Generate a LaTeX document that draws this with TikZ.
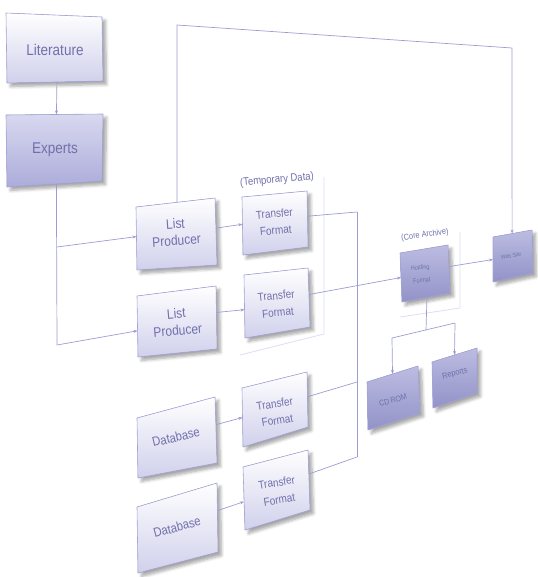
\documentclass[tikz,border=0pt]{standalone}
\usepackage{fontspec}
\setmainfont{Liberation Sans}
\usetikzlibrary{calc,arrows.meta,shadows.blur}

\definecolor{wirecol}{HTML}{9C9CD2}
\definecolor{edgecol}{HTML}{A4A4D6}
\definecolor{txtcol}{HTML}{7070AC}
\definecolor{lightlo}{HTML}{D0D0EC}
\definecolor{midhi}{HTML}{D8D8F0}
\definecolor{midlo}{HTML}{ACACDA}
\definecolor{darkhi}{HTML}{BCBCE2}
\definecolor{darklo}{HTML}{9292C8}
\definecolor{shcol}{HTML}{7474B8}
\definecolor{bracketcol}{HTML}{DEDEF0}

\tikzset{
  wire/.style={draw=wirecol, line width=0.7pt},
  arr/.style={wire, -{Stealth[length=4pt,width=3pt]}},
  boxedge/.style={draw=edgecol, line width=0.6pt, line join=round},
  boxshadow/.style={blur shadow={shadow xshift=3.5pt, shadow yshift=-3.5pt,
      shadow blur radius=3pt, shadow blur steps=6, shadow opacity=35, fill=shcol}},
  lightbox/.style={top color=white, bottom color=lightlo},
  midbox/.style={top color=midhi, bottom color=midlo},
  darkbox/.style={top color=darkhi, bottom color=darklo},
  lbl/.style={text=txtcol, align=center, inner sep=0pt},
  bracket/.style={draw=bracketcol, line width=0.8pt},
}

% a box seen in perspective: name, four corners (nw, ne, se, sw), fill style
\newcommand\skbox[6]{%
  \coordinate (#1-nw) at (#2);
  \coordinate (#1-ne) at (#3);
  \coordinate (#1-se) at (#4);
  \coordinate (#1-sw) at (#5);
  \path[boxshadow] (#1-nw)--(#1-ne)--(#1-se)--(#1-sw)--cycle;
  \shade[#6] (#1-nw)--(#1-ne)--(#1-se)--(#1-sw)--cycle;
  \draw[boxedge] (#1-nw)--(#1-ne)--(#1-se)--(#1-sw)--cycle;
}
\newcommand\tall[1]{\scalebox{1}[1.15]{#1}}

\begin{document}
\begin{tikzpicture}[x=1pt,y=-1pt]
\useasboundingbox (0,0) rectangle (537,577);

% boxes
\skbox{lit}{6,13}{102,17}{103,81}{7,83}{lightbox}
\skbox{exp}{6,115}{103,114}{102,181}{7,187}{midbox}
\skbox{lp1}{136,207}{215,198}{217,265}{137,270}{lightbox}
\skbox{lp2}{137,296}{216,286}{217,349}{138,357}{lightbox}
\skbox{tf1}{242,197}{307,191}{308,247}{243,255}{lightbox}
\skbox{tf2}{244,275}{308,268}{310,327}{245,338}{lightbox}
\skbox{db1}{137,418}{215,397}{217,463}{138,478}{lightbox}
\skbox{tf3}{242,388}{307,372}{308,427}{243,447}{lightbox}
\skbox{db2}{137,507}{217,483}{218,552}{138,573}{lightbox}
\skbox{tf4}{243,467}{308,450}{310,510}{245,530}{lightbox}
\skbox{hf}{400,253}{448,245}{450,293}{402,302}{darkbox}
\skbox{web}{493,237}{532,230}{533,273}{493,282}{darkbox}
\skbox{cd}{367,382}{418,366}{420,413}{368,430}{darkbox}
\skbox{rep}{432,362}{477,348}{477,393}{433,408}{darkbox}

% box texts
\node[lbl, font=\fontsize{13.5}{16}\selectfont] (litt) at (55,50) {\tall{Literature}};
\node[lbl, font=\fontsize{13.5}{16}\selectfont] (expt) at (55,150) {\tall{Experts}};
\node[lbl, rotate=4, font=\fontsize{12}{17}\selectfont] (lp1t) at (176,232) {\tall{List}\\\tall{Producer}};
\node[lbl, rotate=5, font=\fontsize{12}{17}\selectfont] (lp2t) at (177,322) {\tall{List}\\\tall{Producer}};
\node[lbl, rotate=5, font=\fontsize{10}{17}\selectfont] (tf1t) at (275,222) {\tall{Transfer}\\\tall{Format}};
\node[lbl, rotate=6, font=\fontsize{10}{17}\selectfont] (tf2t) at (277,304) {\tall{Transfer}\\\tall{Format}};
\node[lbl, rotate=9, font=\fontsize{10}{17}\selectfont] (tf3t) at (276,412) {\tall{Transfer}\\\tall{Format}};
\node[lbl, rotate=9, font=\fontsize{10}{17.5}\selectfont] (tf4t) at (278,491) {\tall{Transfer}\\\tall{Format}};
\node[lbl, rotate=13, font=\fontsize{11.3}{14}\selectfont] (db1t) at (176,437) {\tall{Database}};
\node[lbl, rotate=15, font=\fontsize{11.3}{14}\selectfont] (db2t) at (177,527) {\tall{Database}};
\node[lbl, rotate=7, font=\fontsize{5.5}{13}\selectfont] (hft) at (421,274) {\tall{Holding}\\\tall{Format}};
\node[lbl, rotate=10, font=\fontsize{5}{6}\selectfont] (webt) at (511,256) {\tall{Web Site}};
\node[lbl, rotate=16, font=\fontsize{7.2}{9}\selectfont] (cdt) at (393,400) {\tall{CD\,ROM}};
\node[lbl, rotate=15, font=\fontsize{7.4}{9}\selectfont] (rept) at (455,374) {\tall{Reports}};

% group brackets and their captions
\draw[bracket] (324,177) -- (324,334) -- (240,355);
\draw[bracket] (460,232) -- (460,308) -- (400,317);
\node[lbl, rotate=5, font=\fontsize{9.5}{12}\selectfont] (tmpl) at (277,180) {\tall{(Temporary Data)}};
\node[lbl, rotate=8, font=\fontsize{7.4}{9}\selectfont] (arcl) at (425,235) {\tall{(Core Archive)}};

% literature to experts
\draw[arr] ($(lit-sw)!0.52!(lit-se)$) -- ($(exp-nw)!0.52!(exp-ne)$);

% experts feeding the list producers
\coordinate (ebot) at ($(exp-sw)!0.52!(exp-se)$);
\coordinate (j1) at (57,247);
\coordinate (j2) at (57,345);
\draw[wire] (ebot) -- (j2);
\draw[arr] (j1) -- ($(lp1-nw)!0.47!(lp1-sw)$);
\draw[arr] (j2) -- ($(lp2-nw)!0.57!(lp2-sw)$);

% list producer straight to the web site
\coordinate (c1) at (177,25);
\coordinate (c2) at (512,48);
\draw[arr] ($(lp1-nw)!0.52!(lp1-ne)$) -- (c1) -- (c2) -- ($(web-nw)!0.49!(web-ne)$);

% sources to transfer formats
\draw[arr] ($(lp1-ne)!0.45!(lp1-se)$) -- ($(tf1-nw)!0.47!(tf1-sw)$);
\draw[arr] ($(lp2-ne)!0.42!(lp2-se)$) -- ($(tf2-nw)!0.55!(tf2-sw)$);
\draw[arr] ($(db1-ne)!0.42!(db1-se)$) -- ($(tf3-nw)!0.5!(tf3-sw)$);
\draw[arr] ($(db2-ne)!0.4!(db2-se)$) -- ($(tf4-nw)!0.55!(tf4-sw)$);

% transfer formats collected onto the bus
\coordinate (bt) at (357,212);
\coordinate (b3) at (357,382);
\coordinate (bb) at (357,457);
\draw[wire] (bt) -- (bb);
\draw[wire] ($(tf1-ne)!0.45!(tf1-se)$) -- (bt);
\draw[wire] ($(tf3-ne)!0.45!(tf3-se)$) -- (b3);
\draw[wire] ($(tf4-ne)!0.4!(tf4-se)$) -- (bb);
\draw[arr] ($(tf2-ne)!0.45!(tf2-se)$) -- ($(hf-nw)!0.5!(hf-sw)$);

% holding format outputs
\draw[arr] ($(hf-ne)!0.45!(hf-se)$) -- ($(web-nw)!0.5!(web-sw)$);
\coordinate (hj) at (426,330);
\coordinate (s1) at (392,338);
\coordinate (s2) at (455,323);
\draw[wire] ($(hf-sw)!0.52!(hf-se)$) -- (hj);
\draw[wire] (s1) -- (s2);
\draw[arr] (s1) -- ($(cd-nw)!0.5!(cd-ne)$);
\draw[arr] (s2) -- ($(rep-nw)!0.5!(rep-ne)$);
\end{tikzpicture}
\end{document}
